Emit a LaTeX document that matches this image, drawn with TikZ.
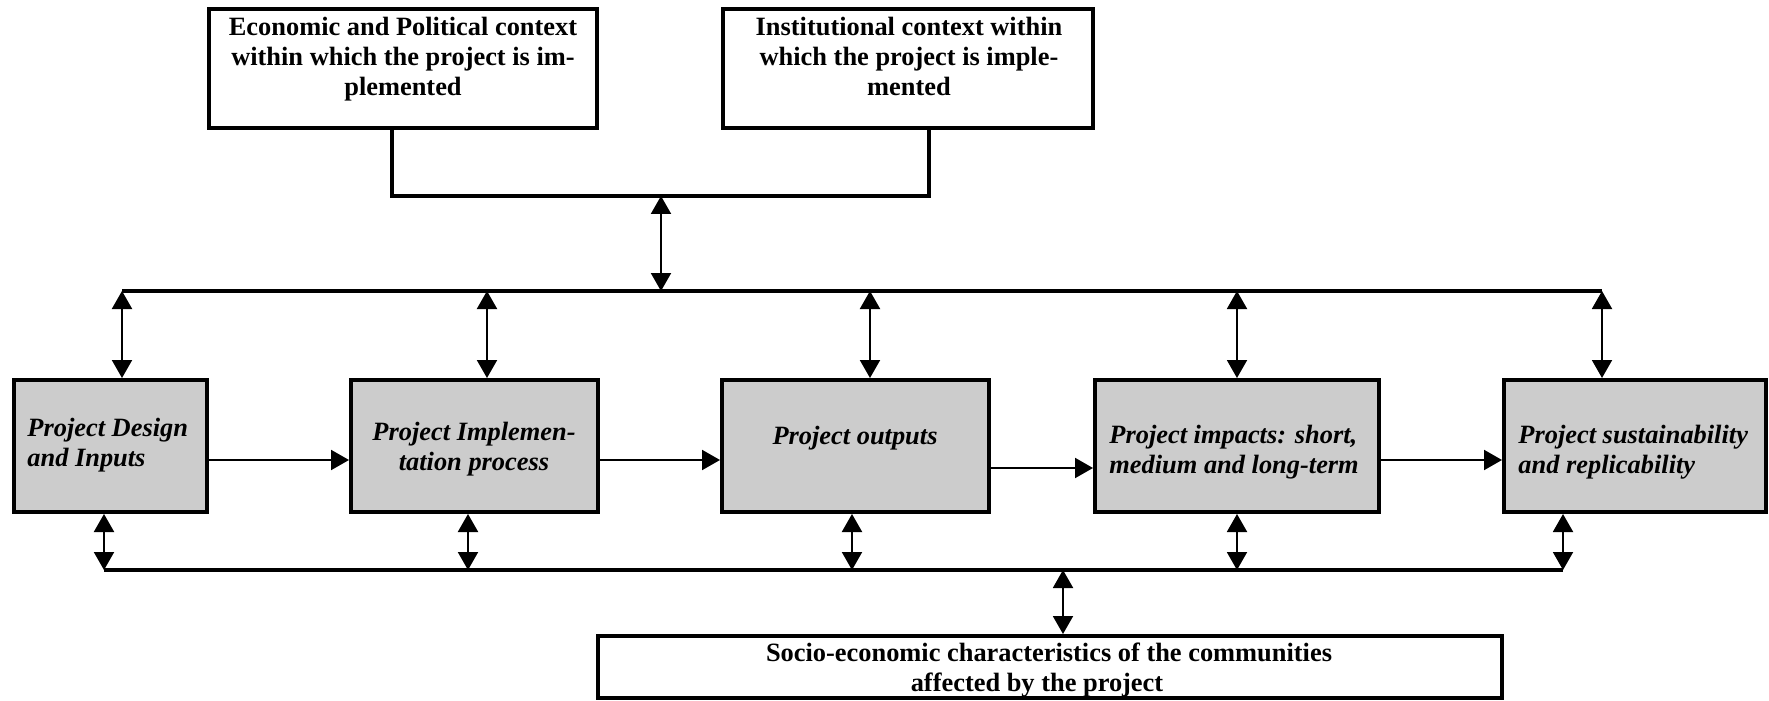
\documentclass[tikz,border=0pt]{standalone}
\usepackage{fontspec}
\setmainfont{Liberation Serif}
\usetikzlibrary{arrows.meta}
\definecolor{boxgray}{RGB}{204,204,204}
\newcommand\mylinesc[1]{\begin{tabular}[t]{@{}c@{}}#1\end{tabular}}
\newcommand\mylinesl[1]{\begin{tabular}[t]{@{}l@{}}#1\end{tabular}}
\begin{document}
\begin{tikzpicture}[x=0.5pt,y=-0.5pt,
  font=\fontsize{13.2}{15}\selectfont\bfseries,
  ctx/.style={draw, line width=2pt, fill=white, inner sep=0pt},
  stage/.style={draw, line width=2pt, fill=boxgray, inner sep=0pt, minimum height=66pt},
  txt/.style={inner sep=0pt, anchor=base},
  txtl/.style={inner sep=0pt, anchor=base west},
  ital/.style={font=\fontsize{13.2}{15}\selectfont\bfseries\itshape},
  bus/.style={line width=1.8pt},
  dbl/.style={line width=1pt, {Triangle[length=9pt,width=10pt]}-{Triangle[length=9pt,width=10pt]}},
  one/.style={line width=1pt, -{Triangle[length=9pt,width=10pt]}}
]
\useasboundingbox (0,0) rectangle (1769,701);

% context boxes
\node[ctx, minimum width=194pt, minimum height=59.5pt] (A) at (403,68.5) {};
\node[ctx, minimum width=185pt, minimum height=59.5pt] (B) at (908,68.5) {};
% stage boxes
\node[stage, minimum width=96.5pt]  (G1) at (110.5,446) {};
\node[stage, minimum width=123.5pt] (G2) at (474.5,446) {};
\node[stage, minimum width=133.5pt] (G3) at (855.5,446) {};
\node[stage, minimum width=142pt]   (G4) at (1237,446) {};
\node[stage, minimum width=131pt]   (G5) at (1635,446) {};
% socio-economic box
\node[ctx, minimum width=452pt, minimum height=31pt] (S) at (1050,667) {};

% texts
\node[txt] (tA) at (403,36) {\mylinesc{Economic and Political context\\within which the project is im-\\plemented}};
\node[txt] (tB) at (909,36) {\mylinesc{Institutional context within\\which the project is imple-\\mented}};
\node[txtl, ital] (t1) at (27,436) {\mylinesl{Project Design\\and Inputs}};
\node[txt, ital] (t2) at (474,440) {\mylinesc{Project Implemen-\\tation process}};
\node[txt, ital] (t3) at (855,444) {Project outputs};
\node[txtl, ital] (t4) at (1109,443) {\mylinesl{Project impacts: short,\\medium and long-term}};
\node[txtl, ital] (t5) at (1518,443) {\mylinesl{Project sustainability\\and replicability}};
\node[txt] (tS) at (1049,661) {\mylinesc{Socio-economic characteristics of the communities\\affected by the project\rule{12pt}{0pt}}};

% junction coordinates
\coordinate (tl) at (392,196);
\coordinate (tr) at (929,196);
\coordinate (hub) at (661,196);
\coordinate (hub2) at (661,291);
\coordinate (u1) at (122,291);
\coordinate (u2) at (487,291);
\coordinate (u3) at (870,291);
\coordinate (u4) at (1237,291);
\coordinate (u5) at (1602,291);
\coordinate (d1) at (104,570);
\coordinate (d2) at (468,570);
\coordinate (d3) at (852,570);
\coordinate (d4) at (1237,570);
\coordinate (d5) at (1563,570);
\coordinate (ds) at (1063,570);
\coordinate (h1) at (0,460);
\coordinate (h3) at (0,468);

% upper connectors
\draw[bus] (A.south -| tl) -- (tl) -- (tr) -- (B.south -| tr);
\draw[dbl] (hub) -- (hub2);
\draw[bus] (u1) -- (u5);
\draw[dbl] (u1) -- (u1 |- G1.north);
\draw[dbl] (u2) -- (u2 |- G2.north);
\draw[dbl] (u3) -- (u3 |- G3.north);
\draw[dbl] (u4) -- (u4 |- G4.north);
\draw[dbl] (u5) -- (u5 |- G5.north);

% flow arrows
\draw[one] (G1.east |- h1) -- (G2.west |- h1);
\draw[one] (G2.east |- h1) -- (G3.west |- h1);
\draw[one] (G3.east |- h3) -- (G4.west |- h3);
\draw[one] (G4.east |- h1) -- (G5.west |- h1);

% lower connectors
\draw[bus] (d1) -- (d5);
\draw[dbl] (d1 |- G1.south) -- (d1);
\draw[dbl] (d2 |- G2.south) -- (d2);
\draw[dbl] (d3 |- G3.south) -- (d3);
\draw[dbl] (d4 |- G4.south) -- (d4);
\draw[dbl] (d5 |- G5.south) -- (d5);
\draw[dbl] (ds) -- (ds |- S.north);
\end{tikzpicture}
\end{document}
